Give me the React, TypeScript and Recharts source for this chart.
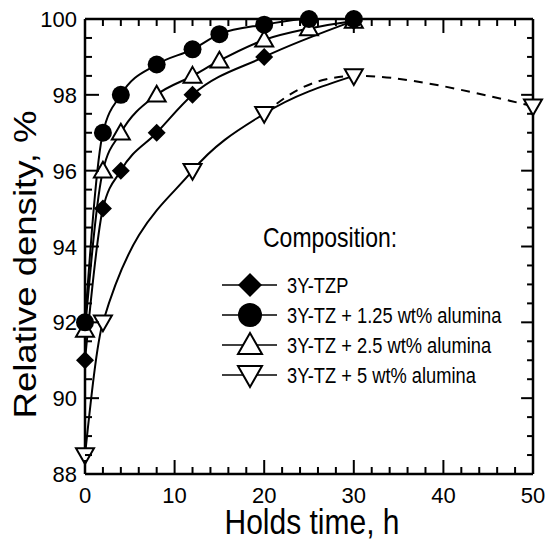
import React from "react";
import { LineChart, Line, XAxis, YAxis } from "recharts";

const FONT = '"Liberation Sans", Arial, Helvetica, sans-serif';

// hold time (h) and relative density (%) for each composition
const tzpHours = [0, 2, 4, 8, 12, 20, 30];
const tzpDensity = [91, 95, 96, 97, 98, 99, 99.95];

const al125Hours = [0, 2, 4, 8, 12, 15, 20, 25, 30];
const al125Density = [92, 97, 98, 98.8, 99.2, 99.6, 99.85, 100, 100];

const al25Hours = [0, 2, 4, 8, 12, 15, 20, 25, 30];
const al25Density = [91.8, 96, 97, 98, 98.5, 98.9, 99.45, 99.75, 99.95];

const al5Hours = [0, 2, 12, 20, 30];
const al5Density = [88.5, 92, 96, 97.5, 98.5];

// dashed continuation of the 5 wt% curve
const al5ExtHours = [20, 30, 50];
const al5ExtDensity = [97.5, 98.5, 97.7];

// minor ticks every 2 h and every 0.5 %, labels on the majors
const xTicks = Array.from({ length: 26 }, (_, i) => i * 2);
const yTicks = Array.from({ length: 25 }, (_, i) => 88 + i * 0.5);
const X_MIN = 0, X_MAX = 50, Y_MIN = 88, Y_MAX = 100;

// chart layout (axes are 1px thick)
const W = 546, H = 540;
const MARGIN = { top: 18, right: 12, bottom: 65, left: 84 };
const PL = MARGIN.left + 1, PR = W - MARGIN.right - 1;
const PT = MARGIN.top + 1, PB = H - MARGIN.bottom - 1;

type MP = { cx: number; cy: number; s: number };

const Diamond = ({ cx, cy, s }: MP) => (
  <polygon points={`${cx},${cy - s} ${cx + s},${cy} ${cx},${cy + s} ${cx - s},${cy}`} fill="#000" />
);
const Disc = ({ cx, cy, s }: MP) => <circle cx={cx} cy={cy} r={s} fill="#000" />;
const TriUp = ({ cx, cy, s }: MP) => (
  <polygon
    points={`${cx},${cy - s} ${cx + s},${cy + s * 0.75} ${cx - s},${cy + s * 0.75}`}
    fill="#fff"
    stroke="#000"
    strokeWidth={2}
  />
);
const TriDown = ({ cx, cy, s }: MP) => (
  <polygon
    points={`${cx - s},${cy - s * 0.75} ${cx + s},${cy - s * 0.75} ${cx},${cy + s}`}
    fill="#fff"
    stroke="#000"
    strokeWidth={2}
  />
);

const toRows = (hours: number[], density: number[]) => hours.map((t, i) => ({ t, d: density[i] }));

// drawn in this order, last on top
const SERIES = [
  { key: "al5", name: "3Y-TZ + 5 wt% alumina", rows: toRows(al5Hours, al5Density), Marker: TriDown },
  { key: "al25", name: "3Y-TZ + 2.5 wt% alumina", rows: toRows(al25Hours, al25Density), Marker: TriUp },
  { key: "tzp", name: "3Y-TZP", rows: toRows(tzpHours, tzpDensity), Marker: Diamond },
  { key: "al125", name: "3Y-TZ + 1.25 wt% alumina", rows: toRows(al125Hours, al125Density), Marker: Disc },
];
const LEGEND_ORDER = ["tzp", "al125", "al25", "al5"];

const xMajor = (v: number) => v % 10 === 0;
const yMajor = (v: number) => v % 2 === 0;
const px = (v: number) => PL + ((v - X_MIN) / (X_MAX - X_MIN)) * (PR - PL);
const py = (v: number) => PB - ((v - Y_MIN) / (Y_MAX - Y_MIN)) * (PB - PT);

const BottomTick = (p: any) => {
  const v = p.payload.value;
  if (!xMajor(v)) return <g />;
  return (
    <text x={p.x} y={p.y + 29} textAnchor="middle" fontSize={22} fontFamily={FONT} fill="#000">
      {v}
    </text>
  );
};

const LeftTick = (p: any) => {
  const v = p.payload.value;
  if (!yMajor(v)) return <g />;
  return (
    <text x={p.x - 8} y={p.y + 8} textAnchor="end" fontSize={22} fontFamily={FONT} fill="#000">
      {v}
    </text>
  );
};

const XTitle = (p: any) => {
  const vb = p.viewBox;
  return (
    <text
      transform={`translate(${vb.x + vb.width / 2 + 3},${vb.y + 60}) scale(1,1.15)`}
      textAnchor="middle"
      fontSize={30}
      fontFamily={FONT}
      fill="#000"
    >
      Holds time, h
    </text>
  );
};

const YTitle = (p: any) => {
  const vb = p.viewBox;
  return (
    <text
      transform={`translate(${vb.x + vb.width - 49},${vb.y + vb.height / 2 + 18}) rotate(-90)`}
      textAnchor="middle"
      fontSize={32}
      fontFamily={FONT}
      fill="#000"
      textLength={308}
      lengthAdjust="spacingAndGlyphs"
    >
      Relative density, %
    </text>
  );
};

// inward tick marks on all four sides plus the legend
function Overlay() {
  const items = LEGEND_ORDER.map((k) => SERIES.find((s) => s.key === k)!);
  return (
    <svg width={W} height={H} style={{ position: "absolute", left: 0, top: 0, pointerEvents: "none" }}>
      <g stroke="#000" strokeWidth={2}>
        {xTicks.map((v) => {
          const len = xMajor(v) ? 14 : 7;
          const x = px(v);
          return (
            <g key={`x${v}`}>
              <line x1={x} y1={PB} x2={x} y2={PB - len} />
              <line x1={x} y1={PT} x2={x} y2={PT + len} />
            </g>
          );
        })}
        {yTicks.map((v) => {
          const len = yMajor(v) ? 14 : 7;
          const y = py(v);
          return (
            <g key={`y${v}`}>
              <line x1={PL} y1={y} x2={PL + len} y2={y} />
              <line x1={PR} y1={y} x2={PR - len * 0.85} y2={y} />
            </g>
          );
        })}
      </g>
      <text transform="translate(263,247) scale(1,1.2)" fontSize={23} fontFamily={FONT} fill="#000">
        Composition:
      </text>
      {items.map(({ key, name, Marker }, i) => {
        const cy = 285 + i * 30;
        return (
          <g key={key}>
            <line x1={222} y1={cy} x2={277} y2={cy} stroke="#000" strokeWidth={1.5} />
            <Marker cx={250} cy={cy} s={12} />
            <text
              transform={`translate(287,${cy + 8}) scale(1,1.2)`}
              fontSize={18.3}
              fontFamily={FONT}
              fill="#000"
            >
              {name}
            </text>
          </g>
        );
      })}
    </svg>
  );
}

const axisLine = { stroke: "#000", strokeWidth: 2.5 };

export default function App() {
  return (
    <div style={{ position: "absolute", left: 0, top: 0, width: W, height: H, background: "#fff" }}>
      <LineChart width={W} height={H} margin={MARGIN}>
        <XAxis
          xAxisId="b"
          type="number"
          dataKey="t"
          domain={[X_MIN, X_MAX]}
          ticks={xTicks}
          interval={0}
          height={1}
          tickSize={0}
          tickMargin={0}
          tickLine={false}
          tick={<BottomTick />}
          axisLine={axisLine}
          label={XTitle}
        />
        <XAxis
          xAxisId="top"
          orientation="top"
          type="number"
          dataKey="t"
          domain={[X_MIN, X_MAX]}
          height={1}
          tick={false}
          tickLine={false}
          axisLine={axisLine}
        />
        <YAxis
          yAxisId="l"
          type="number"
          domain={[Y_MIN, Y_MAX]}
          ticks={yTicks}
          interval={0}
          width={1}
          tickSize={0}
          tickMargin={0}
          tickLine={false}
          tick={<LeftTick />}
          axisLine={axisLine}
          label={YTitle}
        />
        <YAxis
          yAxisId="r"
          orientation="right"
          type="number"
          domain={[Y_MIN, Y_MAX]}
          width={1}
          tick={false}
          tickLine={false}
          axisLine={axisLine}
        />
        <Line
          xAxisId="b"
          yAxisId="l"
          data={toRows(al5ExtHours, al5ExtDensity)}
          dataKey="d"
          type="natural"
          stroke="#000"
          strokeWidth={2}
          strokeDasharray="9 7"
          dot={false}
          isAnimationActive={false}
        />
        {SERIES.map(({ key, rows, Marker }) => (
          <Line
            key={key}
            xAxisId="b"
            yAxisId="l"
            data={rows}
            dataKey="d"
            name={key}
            type="monotone"
            stroke="#000"
            strokeWidth={2}
            dot={(p: any) => <Marker key={`${key}-${p.index}`} cx={p.cx} cy={p.cy} s={9} />}
            isAnimationActive={false}
          />
        ))}
        {/* end marker of the dashed extrapolation */}
        <Line
          xAxisId="b"
          yAxisId="l"
          data={toRows(al5ExtHours, al5ExtDensity).slice(2)}
          dataKey="d"
          stroke="none"
          dot={(p: any) => <TriDown key={`ext-${p.index}`} cx={p.cx} cy={p.cy} s={9} />}
          isAnimationActive={false}
        />
      </LineChart>
      <Overlay />
    </div>
  );
}
